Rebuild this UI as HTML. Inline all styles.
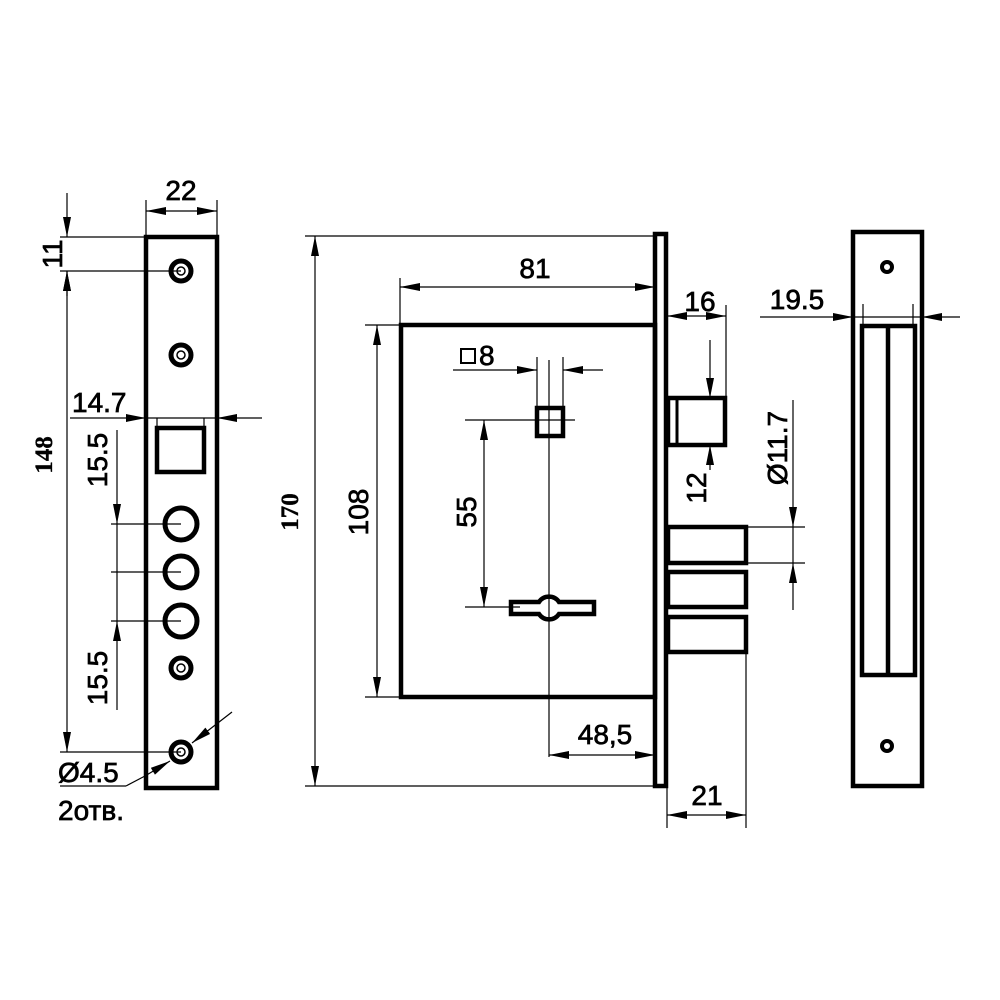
<!DOCTYPE html>
<html><head><meta charset="utf-8"><style>
html,body{margin:0;padding:0;background:#fff}
svg{display:block}
text{font-family:"Liberation Sans",sans-serif;font-size:28px;fill:#000;stroke:#000;stroke-width:0.7}
.s{font-family:"Liberation Serif",serif;font-weight:bold;font-size:25px;stroke-width:0.3}
</style></head><body>
<svg width="1000" height="1000" viewBox="0 0 1000 1000" xmlns="http://www.w3.org/2000/svg">
<defs>
<marker id="a" viewBox="0 0 20 8" refX="20" refY="4" markerWidth="20" markerHeight="8" markerUnits="userSpaceOnUse" orient="auto-start-reverse"><path d="M0,0 L20,4 L0,8 z" fill="#000"/></marker>
</defs>
<g stroke="#000" fill="none">
<!-- LEFT PLATE -->
<rect x="146" y="237" width="71" height="551" stroke-width="4.5"/>
<g stroke-width="5"><circle cx="181" cy="271" r="10"/><circle cx="181" cy="355" r="10"/><circle cx="181" cy="668" r="10"/><circle cx="181" cy="752" r="10"/></g>
<g stroke-width="1.5"><circle cx="181" cy="271" r="4"/><circle cx="181" cy="355" r="4"/><circle cx="181" cy="668" r="4"/><circle cx="181" cy="752" r="4"/></g>
<g stroke-width="5"><circle cx="181" cy="524" r="16"/><circle cx="181" cy="572" r="16"/><circle cx="181" cy="621" r="16"/></g>
<rect x="157" y="428" width="47" height="44" stroke-width="4.5"/>
<g stroke-width="1.2">
<line x1="146" y1="200" x2="146" y2="236"/><line x1="217" y1="200" x2="217" y2="236"/>
<line x1="146" y1="211" x2="217" y2="211" marker-start="url(#a)" marker-end="url(#a)"/>
<line x1="60" y1="237" x2="146" y2="237"/><line x1="60" y1="271" x2="181" y2="271"/><line x1="60" y1="752" x2="181" y2="752"/>
<line x1="67" y1="193" x2="67" y2="237" marker-end="url(#a)"/>
<line x1="67" y1="296" x2="67" y2="271" marker-end="url(#a)"/>
<line x1="67" y1="271" x2="67" y2="752" marker-start="url(#a)" marker-end="url(#a)"/>
<line x1="70" y1="418" x2="146" y2="418" marker-end="url(#a)"/>
<line x1="262" y1="418" x2="217" y2="418" marker-end="url(#a)"/>
<line x1="157" y1="418" x2="157" y2="428"/><line x1="204" y1="418" x2="204" y2="428"/>
<line x1="146" y1="418" x2="217" y2="418"/>
<line x1="117" y1="430" x2="117" y2="524" marker-end="url(#a)"/>
<line x1="117" y1="524" x2="117" y2="621"/>
<line x1="117" y1="710" x2="117" y2="621" marker-end="url(#a)"/>
<line x1="111" y1="524" x2="181" y2="524"/><line x1="111" y1="572" x2="181" y2="572"/><line x1="111" y1="621" x2="181" y2="621"/>
<line x1="60" y1="786" x2="126" y2="786"/><line x1="126" y1="786" x2="145" y2="776"/>
<line x1="145" y1="776" x2="170" y2="761" marker-end="url(#a)"/>
<line x1="232" y1="712" x2="192" y2="743" marker-end="url(#a)"/>
</g>
<!-- MIDDLE BODY -->
<rect x="655" y="234" width="11" height="552" stroke-width="4.5"/>
<rect x="401" y="325" width="254" height="372" stroke-width="4.5"/>
<rect x="668" y="398" width="57" height="47" stroke-width="4.5"/>
<line x1="677" y1="398" x2="677" y2="445" stroke-width="3"/>
<rect x="668" y="527" width="78" height="36" stroke-width="4.5"/>
<rect x="668" y="572" width="78" height="35" stroke-width="4.5"/>
<rect x="668" y="617" width="78" height="35" stroke-width="4.5"/>
<rect x="537" y="408" width="26" height="28" stroke-width="4.5"/>
<path d="M511,602 H539 A12,12 0 0 1 559,602 H594 V614 H559 A12,12 0 0 1 539,614 H511 Z" stroke-width="4.5"/>
<rect x="461" y="349" width="14" height="14" stroke-width="2"/>
<g stroke-width="1.2">
<line x1="305" y1="236" x2="655" y2="236"/><line x1="305" y1="786" x2="655" y2="786"/>
<line x1="315" y1="236" x2="315" y2="786" marker-start="url(#a)" marker-end="url(#a)"/>
<line x1="400" y1="278" x2="400" y2="325"/>
<line x1="400" y1="287" x2="655" y2="287" marker-start="url(#a)" marker-end="url(#a)"/>
<line x1="365" y1="325" x2="401" y2="325"/><line x1="365" y1="697" x2="401" y2="697"/>
<line x1="377" y1="325" x2="377" y2="697" marker-start="url(#a)" marker-end="url(#a)"/>
<line x1="453" y1="370" x2="537" y2="370" marker-end="url(#a)"/>
<line x1="603" y1="370" x2="563" y2="370" marker-end="url(#a)"/>
<line x1="537" y1="357" x2="537" y2="408"/><line x1="563" y1="357" x2="563" y2="408"/>
<line x1="549" y1="360" x2="549" y2="757"/>
<line x1="465" y1="420" x2="575" y2="420"/><line x1="465" y1="607" x2="520" y2="607"/>
<line x1="484" y1="420" x2="484" y2="607" marker-start="url(#a)" marker-end="url(#a)"/>
<line x1="549" y1="755" x2="655" y2="755" marker-start="url(#a)" marker-end="url(#a)"/>
<line x1="726" y1="305" x2="726" y2="398"/>
<line x1="667" y1="316" x2="726" y2="316" marker-start="url(#a)" marker-end="url(#a)"/>
<line x1="710" y1="340" x2="710" y2="398" marker-end="url(#a)"/>
<line x1="710" y1="470" x2="710" y2="445" marker-end="url(#a)"/>
<line x1="746" y1="527" x2="805" y2="527"/><line x1="746" y1="563" x2="805" y2="563"/>
<line x1="793" y1="400" x2="793" y2="527" marker-end="url(#a)"/>
<line x1="793" y1="610" x2="793" y2="563" marker-end="url(#a)"/>
<line x1="793" y1="527" x2="793" y2="563"/>
<line x1="746" y1="652" x2="746" y2="828"/><line x1="667" y1="787" x2="667" y2="828"/>
<line x1="667" y1="815" x2="746" y2="815" marker-start="url(#a)" marker-end="url(#a)"/>
</g>
<!-- RIGHT STRIKE -->
<rect x="853" y="232" width="69" height="554" stroke-width="4.5"/>
<circle cx="887" cy="267" r="5" stroke-width="4"/><circle cx="887" cy="746" r="5" stroke-width="4"/>
<rect x="862" y="326" width="53" height="349" stroke-width="4.5"/>
<line x1="888" y1="326" x2="888" y2="675" stroke-width="4.5"/>
<g stroke-width="1.2">
<line x1="760" y1="317" x2="853" y2="317" marker-end="url(#a)"/>
<line x1="960" y1="317" x2="922" y2="317" marker-end="url(#a)"/>
<line x1="853" y1="317" x2="922" y2="317"/>
<line x1="863" y1="304" x2="863" y2="326"/><line x1="913" y1="304" x2="913" y2="326"/>
</g>
</g>
<!-- TEXT -->
<text x="181" y="200" text-anchor="middle">22</text>
<text transform="translate(62,254) rotate(-90)" text-anchor="middle">11</text>
<text class="s" transform="translate(52,455) rotate(-90)" text-anchor="middle">148</text>
<text x="72" y="412">14.7</text>
<text transform="translate(107,460) rotate(-90)" text-anchor="middle">15.5</text>
<text transform="translate(107,678) rotate(-90)" text-anchor="middle">15.5</text>
<text x="58" y="782">Ø4.5</text>
<text x="58" y="820">2отв.</text>
<text class="s" transform="translate(298,512) rotate(-90)" text-anchor="middle">170</text>
<text x="535" y="278" text-anchor="middle">81</text>
<text transform="translate(368,512) rotate(-90)" text-anchor="middle">108</text>
<text x="479" y="365">8</text>
<text transform="translate(476,512) rotate(-90)" text-anchor="middle">55</text>
<text x="605" y="744" text-anchor="middle">48,5</text>
<text x="700" y="311" text-anchor="middle">16</text>
<text transform="translate(706,488) rotate(-90)" text-anchor="middle">12</text>
<text transform="translate(787,448) rotate(-90)" text-anchor="middle">Ø11.7</text>
<text x="707" y="805" text-anchor="middle">21</text>
<text x="797" y="309" text-anchor="middle">19.5</text>
</svg>
</body></html>
